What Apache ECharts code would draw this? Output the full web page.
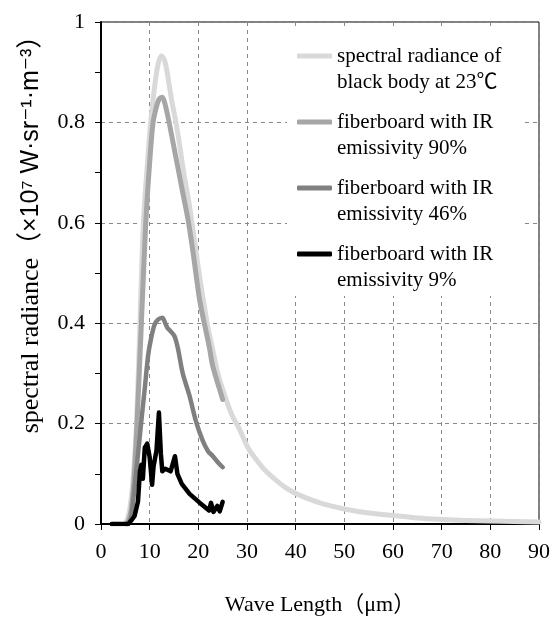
<!DOCTYPE html>
<html>
<head>
<meta charset="utf-8">
<script src="https://cdn.jsdelivr.net/npm/echarts@6/dist/echarts.min.js"></script>
<style>html,body{margin:0;padding:0;background:#fff;}#c{width:553px;height:621px;}</style>
</head>
<body>
<div id="c"></div>
<script>
// Series data [wavelength µm, radiance ×10^7]
const blackBody = [[5.0,0],[5.5,0.012],[6.0,0.035],[6.6,0.09],[7.3,0.2],[8.0,0.4],[8.7,0.6],[9.4,0.70],[10.2,0.8],[11.0,0.87],[11.7,0.915],[12.4,0.933],[13.0,0.925],[13.5,0.905],[14.0,0.875],[14.5,0.845],[15.0,0.82],[15.4,0.80],[16.0,0.765],[17.0,0.70],[18.0,0.645],[18.7,0.60],[19.5,0.545],[20.3,0.49],[21.2,0.436],[22.0,0.39],[22.9,0.35],[24.0,0.30],[25.6,0.251],[27.0,0.215],[28.4,0.19],[30.2,0.152],[32.0,0.127],[33.8,0.106],[36.0,0.087],[38.0,0.072],[40.2,0.06],[45,0.042],[50,0.030],[55,0.022],[60,0.017],[65,0.012],[70,0.009],[75,0.007],[80,0.006],[85,0.005],[90,0.004]];
const emis90 = [[5.3,0],[5.8,0.01],[6.3,0.035],[6.8,0.09],[7.4,0.2],[8.3,0.4],[9.2,0.6],[10.0,0.72],[10.7,0.8],[11.5,0.835],[12.0,0.847],[12.6,0.85],[13.2,0.835],[14.0,0.80],[15.0,0.75],[16.0,0.70],[17.0,0.65],[18.0,0.60],[19.0,0.535],[20.2,0.45],[21.0,0.41],[21.6,0.383],[22.3,0.35],[22.9,0.317],[24.0,0.28],[25.0,0.248]];
const emis46 = [[5.5,0],[6.0,0.008],[6.3,0.02],[6.9,0.073],[7.6,0.139],[8.3,0.206],[9.0,0.271],[9.7,0.337],[10.3,0.37],[11.0,0.397],[11.7,0.407],[12.6,0.411],[13.2,0.40],[13.7,0.39],[14.2,0.385],[15.1,0.374],[15.8,0.35],[16.8,0.30],[18.2,0.255],[19.5,0.205],[20.9,0.166],[22.0,0.145],[22.9,0.136],[24.0,0.123],[25.0,0.113]];
const emis9 = [[2.2,0],[5.6,0],[6.3,0.008],[6.9,0.016],[7.6,0.045],[8.0,0.105],[8.3,0.118],[8.6,0.09],[9.0,0.152],[9.5,0.16],[10.0,0.133],[10.5,0.078],[10.8,0.115],[11.4,0.146],[11.9,0.222],[12.3,0.14],[12.6,0.105],[13.2,0.11],[14.3,0.105],[15.2,0.135],[15.7,0.10],[16.6,0.08],[18.2,0.06],[20.2,0.043],[22.2,0.027],[22.6,0.042],[23.1,0.024],[23.9,0.036],[24.4,0.025],[25.0,0.044]];
const seriesNames = ['spectral radiance of\nblack body at 23℃','fiberboard with IR\nemissivity 90%','fiberboard with IR\nemissivity 46%','fiberboard with IR\nemissivity 9%'];
const seriesColors = ['#d9d9d9','#a6a6a6','#808080','#000000'];

const SERIF = "'Liberation Serif','Times New Roman','Noto Sans CJK SC',serif";
const SANS = "'Liberation Sans','DejaVu Sans',sans-serif";
const chart = echarts.init(document.getElementById('c'));
const datasets = [blackBody, emis90, emis46, emis9];
const widths = [5, 5, 4.5, 4.5];
chart.setOption({
  animation: false,
  backgroundColor: '#fff',
  grid: {left: 101, right: 11, top: 22, bottom: 94, show: true, borderColor: '#000', borderWidth: 1, backgroundColor: 'transparent'},
  graphic: [{type: 'rect', z: 1, shape: {x: 287, y: 28, width: 236, height: 268}, style: {fill: '#fff'}, silent: true}],
  legend: {
    orient: 'vertical', left: 297, top: 17, padding: 0, itemGap: -12,
    itemWidth: 35, itemHeight: 5, icon: 'roundRect',
    data: seriesNames,
    formatter: name => '\n' + name,
    textStyle: {fontFamily: SERIF, fontSize: 21, color: '#000', lineHeight: 26}
  },
  xAxis: {
    type: 'value', min: 0, max: 90, interval: 10,
    name: 'Wave Length（μm）', nameLocation: 'middle', nameGap: 70,
    nameTextStyle: {fontFamily: SERIF, fontSize: 22, color: '#000'},
    axisLine: {lineStyle: {color: '#000', width: 2}},
    axisTick: {show: true, length: 6, lineStyle: {color: '#000', width: 1}},
    axisLabel: {fontFamily: SERIF, fontSize: 22, color: '#000', margin: 17},
    splitLine: {show: true, lineStyle: {color: '#888', width: 1, type: [4, 4]}}
  },
  yAxis: {
    type: 'value', min: 0, max: 1, interval: 0.2,
    name: '{a|spectral radiance（}{b|×10⁷ W·sr⁻¹·m⁻³}{a|）}', nameLocation: 'middle', nameGap: 57,
    nameTextStyle: {padding: [0, 0, 0, 90], rich: {a: {fontFamily: SERIF, fontSize: 26, color: '#000'}, b: {fontFamily: SANS, fontSize: 25, color: '#000'}}},
    axisLine: {show: true, lineStyle: {color: '#000', width: 2}},
    axisTick: {show: true, length: 6, lineStyle: {color: '#000', width: 1}},
    minorTick: {show: true, splitNumber: 2, length: 6, lineStyle: {color: '#000', width: 1}},
    axisLabel: {fontFamily: SERIF, fontSize: 22, color: '#000', margin: 16, formatter: v => String(+v.toFixed(1))},
    splitLine: {show: true, lineStyle: {color: '#888', width: 1, type: [4, 4]}}
  },
  series: datasets.map((d, i) => ({
    name: seriesNames[i], type: 'line', data: d, showSymbol: false, symbol: 'none',
    smooth: i < 3 ? 0.3 : false, z: 2 + i,
    itemStyle: {color: seriesColors[i]},
    lineStyle: {color: seriesColors[i], width: widths[i], cap: 'round', join: 'round'}
  }))
});
</script>
</body>
</html>
